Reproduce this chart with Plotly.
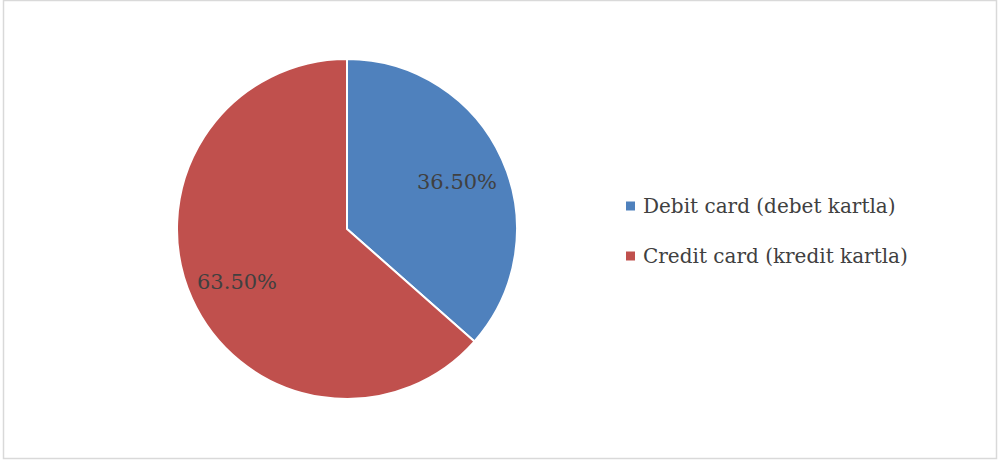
import math
import plotly.graph_objects as go

# Card usage shares
labels = ["Debit card (debet kartla)", "Credit card (kredit kartla)"]
values = [36.5, 63.5]
colors = ["#4F81BD", "#C0504D"]

W, H = 1001, 461
FONT = "DejaVu Serif"
TEXT_COLOR = "#404040"

# Pie placement (pixels): centre and radius
CX, CY, R = 347, 229, 170

fig = go.Figure()
fig.add_trace(go.Pie(
    labels=labels,
    values=values,
    sort=False,
    direction="clockwise",
    rotation=0,
    marker=dict(colors=colors, line=dict(color="white", width=2)),
    textinfo="none",
    hoverinfo="label+percent",
    domain=dict(x=[(CX - R) / W, (CX + R) / W], y=[(H - CY - R) / H, (H - CY + R) / H]),
    showlegend=False,
))

annotations = []
shapes = []

# Value labels placed at each slice's mid-angle, 71% of the way out
total = sum(values)
start = 0.0
for v in values:
    mid = (start + v / 2) / total * 2 * math.pi  # clockwise from 12 o'clock
    start += v
    px = CX + 0.71 * R * math.sin(mid)
    py = CY - 0.71 * R * math.cos(mid)
    annotations.append(dict(
        xref="paper", yref="paper", x=px / W, y=1 - py / H,
        xanchor="center", yanchor="middle", showarrow=False, yshift=-3,
        text=f"{v:.2f}%", font=dict(family=FONT, size=21, color=TEXT_COLOR),
    ))

# Legend drawn as coloured squares with labels beside them
legend_x = 626 / W
legend_y0 = 1 - 206 / H
legend_step = 50 / H
for i, (lab, col) in enumerate(zip(labels, colors)):
    yc = legend_y0 - i * legend_step
    shapes.append(dict(
        type="rect", xref="paper", yref="paper",
        x0=legend_x, x1=legend_x + 9 / W,
        y0=yc - 4.5 / H, y1=yc + 4.5 / H,
        fillcolor=col, line=dict(width=0),
    ))
    annotations.append(dict(
        xref="paper", yref="paper", x=641 / W, y=yc,
        xanchor="left", yanchor="middle", showarrow=False,
        text=lab, font=dict(family=FONT, size=20, color=TEXT_COLOR),
    ))

# Chart frame
shapes.append(dict(
    type="rect", xref="paper", yref="paper",
    x0=3.5 / W, x1=996.5 / W, y0=1 - 458.5 / H, y1=1 - 0.5 / H,
    line=dict(color="#D9D9D9", width=1.5), fillcolor="rgba(0,0,0,0)",
))

fig.update_layout(
    width=W, height=H,
    margin=dict(l=0, r=0, t=0, b=0),
    paper_bgcolor="white",
    plot_bgcolor="white",
    shapes=shapes,
    annotations=annotations,
)

fig.write_html("out.html")
